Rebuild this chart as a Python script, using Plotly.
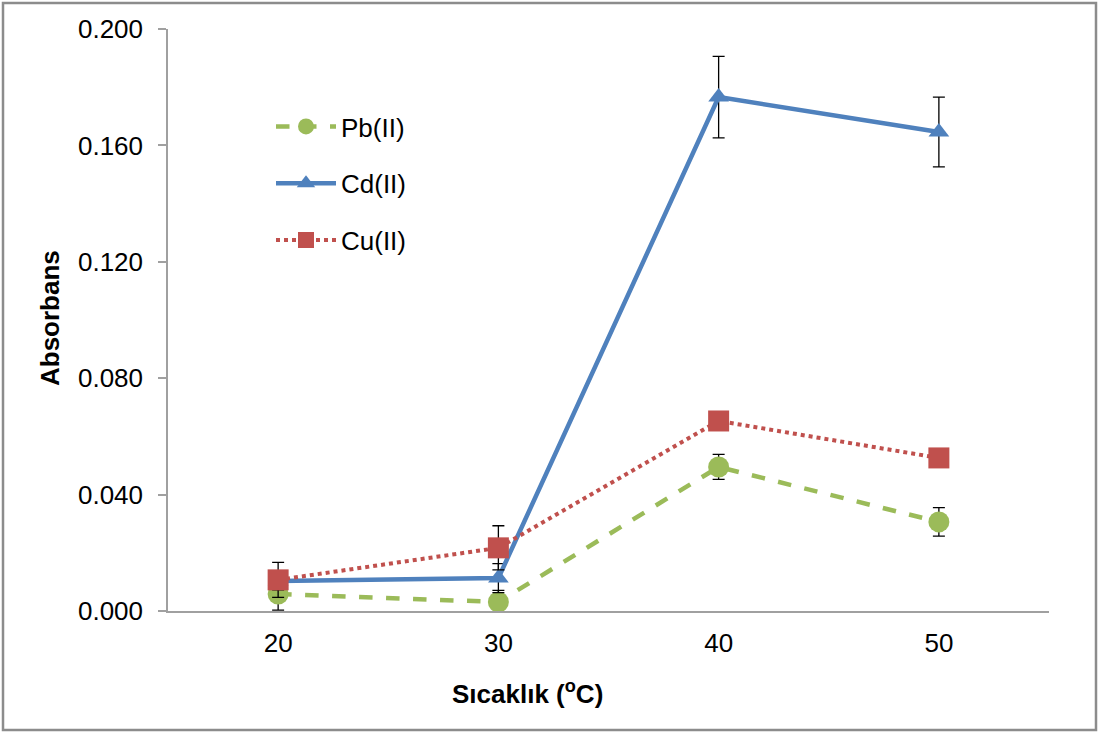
import plotly.graph_objects as go

# Sıcaklık kategorileri ve ölçülen absorbans değerleri
temperatures = ["20", "30", "40", "50"]

pb_values = [0.0058, 0.0031, 0.0495, 0.0306]
pb_errors = [0.0055, 0.0040, 0.0043, 0.0049]

cd_values = [0.0103, 0.0113, 0.1766, 0.1646]
cd_errors = [0.0030, 0.0050, 0.0140, 0.0120]

cu_values = [0.0107, 0.0217, 0.0653, 0.0526]
cu_errors = [0.0060, 0.0076, 0.0020, 0.0020]

y_ticks = [0.0, 0.04, 0.08, 0.12, 0.16, 0.20]
y_tick_text = ["0.000", "0.040", "0.080", "0.120", "0.160", "0.200"]

GREEN = "#9BBB59"
BLUE = "#4F81BD"
RED = "#C0504D"
AXIS = "#A0A0A0"
FONT = "Arial, Liberation Sans, sans-serif"

# plot area in pixels
L, R, T, B = 168, 51, 29, 122
W, H = 1100, 733
PW, PH = W - L - R, H - T - B


def err(values):
    return dict(type="data", array=values, visible=True, color="black",
                thickness=1.3, width=6)


def px_x(x):
    return (x - L) / PW


def px_y(y):
    return (H - B - y) / PH


fig = go.Figure()

fig.add_trace(go.Scatter(
    x=temperatures, y=pb_values, name="Pb(II)", mode="lines+markers",
    line=dict(color=GREEN, width=4.5, dash="dash"),
    marker=dict(symbol="circle", size=21, color=GREEN),
    error_y=err(pb_errors), legendgroup="pb",
))
fig.add_trace(go.Scatter(
    x=temperatures, y=cd_values, name="Cd(II)", mode="lines+markers",
    line=dict(color=BLUE, width=4.5),
    marker=dict(symbol="triangle-up", size=18, color=BLUE),
    error_y=err(cd_errors), legendgroup="cd",
))
fig.add_trace(go.Scatter(
    x=temperatures, y=cu_values, name="Cu(II)", mode="lines+markers",
    line=dict(color=RED, width=4, dash="dot"),
    marker=dict(symbol="square", size=21, color=RED),
    error_y=err(cu_errors), legendgroup="cu",
))

fig.update_layout(
    width=W, height=H,
    margin=dict(l=L, r=R, t=T, b=B),
    paper_bgcolor="white", plot_bgcolor="white",
    font=dict(family=FONT, size=26, color="black"),
    showlegend=True,
    legend=dict(
        x=px_x(271), y=px_y(103), xanchor="left", yanchor="top",
        font=dict(family=FONT, size=26, color="black"),
        tracegroupgap=20, itemwidth=60, bgcolor="rgba(0,0,0,0)",
    ),
    xaxis=dict(
        type="category", range=[-0.5, 3.5],
        showline=True, linecolor=AXIS, linewidth=1.5,
        showgrid=False, ticks="", zeroline=False,
        tickfont=dict(family=FONT, size=26),
        ticklabelstandoff=8,
    ),
    yaxis=dict(
        range=[0, 0.2], tickvals=y_ticks, ticktext=y_tick_text,
        showline=True, linecolor=AXIS, linewidth=1.5,
        showgrid=False, zeroline=False,
        ticks="outside", ticklen=8, tickcolor=AXIS, tickwidth=1.5,
        tickfont=dict(family=FONT, size=26),
        ticklabelstandoff=10,
    ),
    annotations=[
        dict(text="<b>Sıcaklık (<sup>o</sup>C)</b>", xref="paper", yref="paper",
             x=px_x(527), y=px_y(692), xanchor="center", yanchor="middle",
             showarrow=False, font=dict(family=FONT, size=26)),
        dict(text="<b>Absorbans</b>", xref="paper", yref="paper",
             x=px_x(50), y=px_y(318), xanchor="center", yanchor="middle",
             textangle=-90, showarrow=False, font=dict(family=FONT, size=26)),
    ],
    shapes=[dict(
        type="rect", xref="paper", yref="paper",
        x0=px_x(3), x1=px_x(1096), y0=px_y(730), y1=px_y(3),
        line=dict(color="#8C8C8C", width=2.5), fillcolor="rgba(0,0,0,0)",
        layer="below",
    )],
)

fig.write_html("out.html")
